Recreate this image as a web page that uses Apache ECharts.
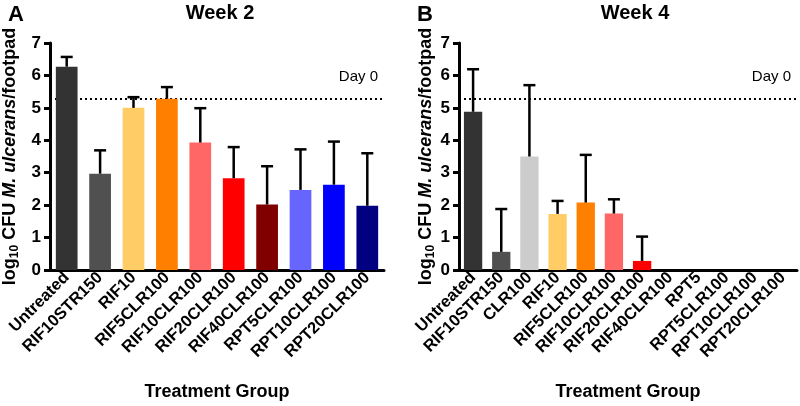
<!DOCTYPE html>
<html>
<head>
<meta charset="utf-8">
<script src="https://cdn.jsdelivr.net/npm/echarts@6/dist/echarts.min.js"></script>
<style>
  html, body { margin: 0; padding: 0; background: #fff; }
  #main { width: 800px; height: 406px; }
</style>
</head>
<body>
<div id="main"></div>
<script>
// 第2周
var week2Groups = ["Untreated", "RIF10STR150", "RIF10", "RIF5CLR100", "RIF10CLR100", "RIF20CLR100", "RIF40CLR100", "RPT5CLR100", "RPT10CLR100", "RPT20CLR100"];
var week2Mean = [6.27, 2.97, 5.0, 5.28, 3.93, 2.83, 2.02, 2.47, 2.63, 1.98];
var week2Upper = [6.57, 3.69, 5.33, 5.64, 4.99, 3.79, 3.2, 3.72, 3.96, 3.6];
var week2Colors = ["#333333", "#505050", "#ffcc66", "#ff8000", "#ff6666", "#ff0000", "#800000", "#6666ff", "#0000ff", "#000080"];

// 第4周
var week4Groups = ["Untreated", "RIF10STR150", "CLR100", "RIF10", "RIF5CLR100", "RIF10CLR100", "RIF20CLR100", "RIF40CLR100", "RPT5", "RPT5CLR100", "RPT10CLR100", "RPT20CLR100"];
var week4Mean = [4.88, 0.56, 3.5, 1.73, 2.08, 1.74, 0.28, 0, 0, 0, 0, 0];
var week4Upper = [6.19, 1.88, 5.7, 2.13, 3.55, 2.18, 1.03, 0, 0, 0, 0, 0];
var week4Colors = ["#333333", "#505050", "#cccccc", "#ffcc66", "#ff8000", "#ff6666", "#ff0000", "#800000", "#000000", "#6666ff", "#0000ff", "#000080"];

// Day 0 基线
var day0Value = 5.28;
var yTicks = [0, 1, 2, 3, 4, 5, 6, 7];

var font = "Liberation Sans, Arial, Helvetica, sans-serif";
var chart = echarts.init(document.getElementById("main"));

function makeXAxis(gridIndex, groups) {
    return {
        type: "category",
        gridIndex: gridIndex,
        data: groups,
        name: "Treatment Group",
        nameLocation: "middle",
        nameGap: 113,
        nameTextStyle: { color: "#000", fontSize: 18, fontWeight: "bold", fontFamily: font },
        axisLine: { lineStyle: { color: "#000", width: 3 } },
        axisTick: { alignWithLabel: true, length: 6, lineStyle: { color: "#000", width: 3 } },
        axisLabel: { rotate: 45, interval: 0, margin: 5, color: "#000", fontSize: 16.5, fontWeight: "bold", fontFamily: font }
    };
}

function makeYAxis(gridIndex, gap) {
    return {
        type: "value",
        gridIndex: gridIndex,
        min: yTicks[0],
        max: yTicks[yTicks.length - 1],
        interval: 1,
        name: "{a|log}{sub|10}{a| CFU }{i|M. ulcerans}{a|/footpad}",
        nameLocation: "middle",
        nameRotate: 90,
        nameGap: gap,
        nameTextStyle: {
            rich: {
                a: { fontSize: 18, fontWeight: "bold", color: "#000", fontFamily: font, lineHeight: 22 },
                i: { fontSize: 18, fontWeight: "bold", fontStyle: "italic", color: "#000", fontFamily: font, lineHeight: 22 },
                sub: { fontSize: 12, fontWeight: "bold", color: "#000", fontFamily: font, verticalAlign: "bottom", lineHeight: 22, padding: [7, 0, 0, 0] }
            }
        },
        splitLine: { show: false },
        axisLine: { show: true, lineStyle: { color: "#000", width: 3 } },
        axisTick: { show: true, length: 6, lineStyle: { color: "#000", width: 3 } },
        axisLabel: { margin: 9, color: "#000", fontSize: 17, fontWeight: "bold", fontFamily: font }
    };
}

//误差线
function errorRender(params, api) {
    var mean = api.value(1);
    var upper = api.value(2);
    if (upper <= mean) return;
    var p0 = api.coord([api.value(0), mean]);
    var p1 = api.coord([api.value(0), upper]);
    var cap = 6;
    var style = { stroke: "#000", lineWidth: 2.5 };
    return {
        type: "group",
        children: [
            { type: "line", shape: { x1: p0[0], y1: p0[1], x2: p1[0], y2: p1[1] }, style: style },
            { type: "line", shape: { x1: p1[0] - cap, y1: p1[1], x2: p1[0] + cap, y2: p1[1] }, style: style }
        ]
    };
}

function barSeries(idx, mean, colors) {
    return {
        type: "bar",
        xAxisIndex: idx,
        yAxisIndex: idx,
        barWidth: "65%",
        z: 2,
        data: mean.map(function (v, i) {
            return { value: v, itemStyle: { color: colors[i] } };
        }),
        markLine: {
            silent: true,
            z: 1,
            symbol: "none",
            lineStyle: { color: "#000", type: [2, 3], width: 2 },
            label: {
                show: true,
                formatter: "Day 0",
                position: "insideEndTop",
                distance: [6, 14],
                color: "#000",
                fontSize: 15,
                fontFamily: font
            },
            data: [{ yAxis: day0Value }]
        }
    };
}

function errSeries(idx, mean, upper) {
    return {
        type: "custom",
        xAxisIndex: idx,
        yAxisIndex: idx,
        z: 3,
        renderItem: errorRender,
        data: mean.map(function (v, i) { return [i, v, upper[i]]; })
    };
}

var option = {
    backgroundColor: "#fff",
    animation: false,
    title: [
        { text: "A", left: 3, top: -1, textStyle: { fontSize: 22, fontWeight: "bold", color: "#000", fontFamily: font } },
        { text: "Week 2", left: 215, top: -2, textAlign: "center", textStyle: { fontSize: 20, fontWeight: "bold", color: "#000", fontFamily: font } },
        { text: "B", left: 412, top: -1, textStyle: { fontSize: 22, fontWeight: "bold", color: "#000", fontFamily: font } },
        { text: "Week 4", left: 630, top: -2, textAlign: "center", textStyle: { fontSize: 20, fontWeight: "bold", color: "#000", fontFamily: font } }
    ],
    grid: [
        { left: 46, right: 416, top: 43, bottom: 136 },
        { left: 459, right: 3, top: 43, bottom: 136 }
    ],
    xAxis: [makeXAxis(0, week2Groups), makeXAxis(1, week4Groups)],
    yAxis: [makeYAxis(0, 29), makeYAxis(1, 22)],
    series: [
        barSeries(0, week2Mean, week2Colors),
        errSeries(0, week2Mean, week2Upper),
        barSeries(1, week4Mean, week4Colors),
        errSeries(1, week4Mean, week4Upper)
    ]
};

chart.setOption(option);
</script>
</body>
</html>
